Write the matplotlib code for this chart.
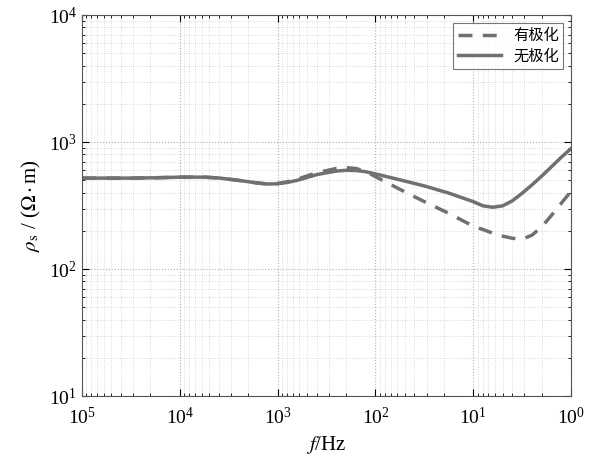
import numpy as np
import matplotlib
matplotlib.use('Agg')
import matplotlib.pyplot as plt

plt.rcParams['font.family'] = ['Liberation Serif', 'Noto Sans CJK SC']
plt.rcParams['mathtext.fontset'] = 'stix'

# 频率 (log10 Hz) 与视电阻率 (Ω·m)
freq_log = [5.0, 4.5, 4.25, 4.0, 3.75, 3.6, 3.4, 3.2, 3.1, 3.0, 2.9, 2.8,
            2.6, 2.4, 2.3, 2.2, 2.1, 2.0, 1.75, 1.5, 1.25, 1.0, 0.9, 0.8,
            0.7, 0.6, 0.5, 0.4, 0.3, 0.2, 0.1, 0.0]
rho_nopol = [521, 521, 524, 530, 530, 522, 500, 476, 468, 470, 482, 500,
             555, 592, 600, 598, 585, 562, 505, 452, 397, 340, 315, 307,
             315, 345, 396, 460, 540, 640, 760, 890]
rho_pol = [521, 521, 524, 530, 530, 522, 500, 476, 468, 472, 488, 510,
           575, 620, 630, 620, 588, 535, 425, 340, 275, 218, 205, 192,
           182, 175, 172, 185, 215, 265, 330, 410]

freq = 10.0 ** np.array(freq_log)

fig = plt.figure(figsize=(6.03, 4.59), dpi=100)
ax = fig.add_axes([0.136, 0.137, 0.811, 0.830])

ax.plot(freq, rho_pol, color='#707070', lw=2.5, ls=(0, (4, 3)), label='有极化')
ax.plot(freq, rho_nopol, color='#707070', lw=2.5, label='无极化')

ax.set_xscale('log')
ax.set_yscale('log')
ax.set_xlim(1e5, 1e0)
ax.set_ylim(1e1, 1e4)

ax.grid(True, which='major', ls=':', color='#b0b0b0', lw=0.8)
ax.grid(True, which='minor', ls=':', color='#d0d0d0', lw=0.6)
ax.tick_params(which='both', direction='in', top=True, right=True, labelsize=14)
ax.tick_params(which='major', length=5)
ax.tick_params(which='minor', length=2.5)
ax.tick_params(axis='x', pad=8)
for s in ax.spines.values():
    s.set_color('#555555')

ax.set_xlabel(r'$f$/Hz', fontsize=15)
ax.set_ylabel(r'$\rho_{\rm s}$ / ($\Omega\cdot$m)', fontsize=15)

leg = ax.legend(loc='upper right', fancybox=False, edgecolor='#555555',
                prop={'family': 'Noto Sans CJK SC', 'size': 11},
                handlelength=2.8, borderpad=0.3, labelspacing=0.2)
leg.get_frame().set_linewidth(0.8)

fig.savefig('out.png', dpi=100)
